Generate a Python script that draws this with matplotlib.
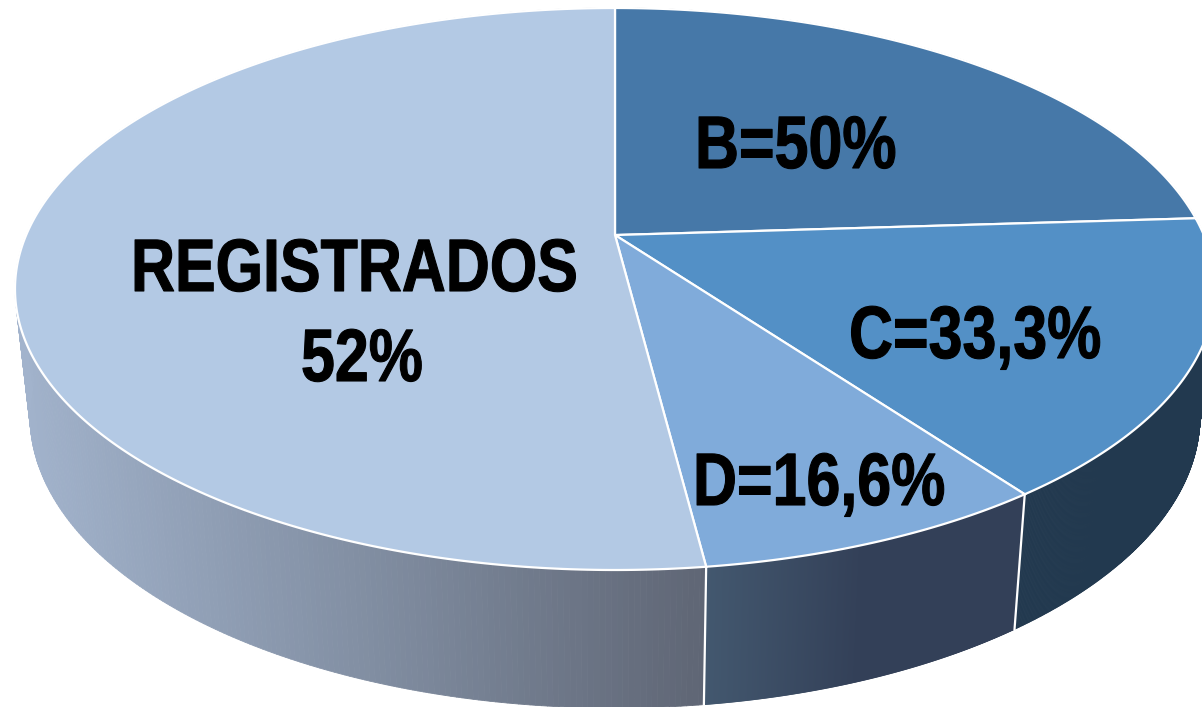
import numpy as np
from matplotlib import pyplot as plt
from matplotlib.collections import PolyCollection
from matplotlib.colors import LinearSegmentedColormap
from matplotlib.patheffects import AbstractPathEffect
from matplotlib.transforms import Affine2D

# slices clockwise from 12 o'clock, share of the whole pie
slice_names = ["B", "C", "D", "REGISTRADOS"]
slice_values = [24, 16, 8, 52]
top_colors = ["#4678a8", "#5390c6", "#80abda", "#b3c9e4"]

label_texts = ["B=50%", "C=33,3%", "D=16,6%", "REGISTRADOS", "52%"]
label_x = [695, 849, 693, 131, 301]
label_y = [168, 358, 505, 291, 381]

# the axes use pixel-like units, y going down
tilt = -0.192
top_rim = (615, 289, 600, 281)
bottom_rim = (615, 416, 585, 292)


class Squeeze(AbstractPathEffect):
    # the original font is a horizontally squeezed Arial Bold, a bit heavier than Liberation
    def __init__(self, sx, stroke):
        super().__init__()
        self.sx = sx
        self.stroke = stroke

    def draw_path(self, renderer, gc, tpath, affine, rgbFace=None):
        gc.set_linewidth(self.stroke)
        gc.set_foreground("black")
        renderer.draw_path(gc, tpath, Affine2D().scale(self.sx, 1) + affine, rgbFace)


def project(t, rim):
    # circle seen in perspective: the pie centre is not the ellipse centre
    cx, cy, a, b = rim
    u, v = np.sin(t), -np.cos(t)
    d = 1 + tilt * v
    return cx + a * u * np.sqrt(1 - tilt**2) / d, cy + b * (v + tilt) / d


side_reg = LinearSegmentedColormap.from_list("reg", ["#a2b3cc", "#828fa3", "#5f6675"])
side_d = LinearSegmentedColormap.from_list("d", ["#43586f", "#334058"])


def side_color(x, name):
    if name == "REGISTRADOS":
        return side_reg(np.interp(x, [20, 705], [0, 1]))
    if name == "D":
        return side_d(np.interp(x, [705, 860], [0, 1]))
    return "#22394f"


fig = plt.figure(figsize=(12.02, 7.07), dpi=100)
ax = fig.add_axes([0, 0, 1, 1])
ax.set_xlim(0, 1202)
ax.set_ylim(707, 0)
ax.axis("off")

edges = np.radians(np.cumsum([0] + slice_values) * 3.6)

# side of the pie first, the top covers whatever sits behind it
for i, name in enumerate(slice_names):
    ts = np.linspace(edges[i], edges[i + 1], 400)
    xt, yt = project(ts, top_rim)
    xb, yb = project(ts, bottom_rim)
    quads = []
    cols = []
    for j in range(len(ts) - 1):
        quads.append([(xt[j], yt[j]), (xt[j + 1], yt[j + 1]), (xb[j + 1], yb[j + 1]), (xb[j], yb[j])])
        cols.append(side_color((xt[j] + xb[j]) / 2, name))
    ax.add_collection(PolyCollection(quads, facecolors=cols, edgecolors=cols, linewidths=0.6, zorder=i + 1))

# white seams between the visible sides
for e in edges[1:4]:
    x0, y0 = project(e, top_rim)
    x1, y1 = project(e, bottom_rim)
    if y0 > 400:
        ax.plot([x0, x1], [y0, y1], color="white", lw=1.6, zorder=6)

# top face
apex = (top_rim[0], top_rim[1] + top_rim[3] * tilt)
for i in range(len(slice_values)):
    ts = np.linspace(edges[i], edges[i + 1], 300)
    xt, yt = project(ts, top_rim)
    ax.fill(np.r_[apex[0], xt], np.r_[apex[1], yt], facecolor=top_colors[i],
            edgecolor="white", linewidth=1.6, zorder=7)

for lab, x, y in zip(label_texts, label_x, label_y):
    ax.text(x, y, lab, family="Liberation Sans", weight="bold", fontsize=53.5,
            ha="left", va="baseline", color="black", zorder=8,
            path_effects=[Squeeze(0.82, 0.8)])

plt.savefig("out.png", dpi=100)
